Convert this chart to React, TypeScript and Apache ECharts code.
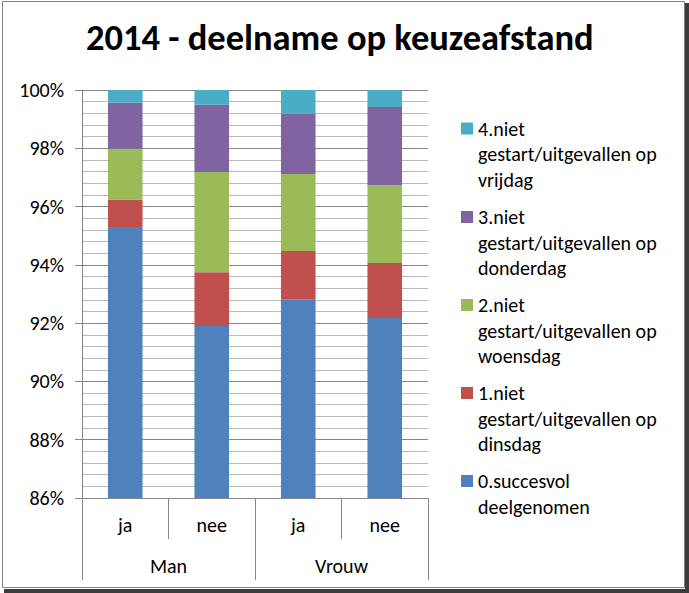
import React, { useEffect, useRef } from "react";
import * as echarts from "echarts";

const categories = ["ja", "nee", "ja", "nee"];
const groups = ["Man", "Vrouw"];
const seriesNames = [
  "0.succesvol deelgenomen",
  "1.niet gestart/uitgevallen op dinsdag",
  "2.niet gestart/uitgevallen op woensdag",
  "3.niet gestart/uitgevallen op donderdag",
  "4.niet gestart/uitgevallen op vrijdag",
];
const legendLabels = [
  "0.succesvol\ndeelgenomen",
  "1.niet\ngestart/uitgevallen op\ndinsdag",
  "2.niet\ngestart/uitgevallen op\nwoensdag",
  "3.niet\ngestart/uitgevallen op\ndonderdag",
  "4.niet\ngestart/uitgevallen op\nvrijdag",
];
const succesvol = [95.3, 91.9, 92.82, 92.18];
const dinsdag = [0.94, 1.85, 1.655, 1.88];
const woensdag = [1.74, 3.44, 2.645, 2.68];
const donderdag = [1.58, 2.3, 2.07, 2.68];
const vrijdag = [0.44, 0.51, 0.81, 0.58];
const seriesValues = [succesvol, dinsdag, woensdag, donderdag, vrijdag];
const colors = ["#4F81BD", "#C0504D", "#9BBB59", "#8064A2", "#4BACC6"];
const yTicks = { min: 86, max: 100, interval: 2 };

const FONT = "Carlito, Lato, sans-serif";

export default function App() {
  const ref = useRef<HTMLDivElement>(null);
  useEffect(() => {
    if (!ref.current) return;
    const chart = echarts.init(ref.current, null, { renderer: "svg" });
    const L = 25.5;
    const iconCenters = [481, 393, 305, 217, 128.5];
    const legends = seriesNames.map((name, i) => {
      const lines = legendLabels[i].split("\n").length;
      const blank = "\n".repeat(lines - 1);
      const total = 2 * lines - 1;
      return {
        data: [name],
        orient: "vertical",
        left: 461,
        top: iconCenters[i] - (total * L) / 2,
        padding: 0,
        icon: "rect",
        itemWidth: 12,
        itemHeight: 12,
        formatter: () => blank + legendLabels[i],
        textStyle: {
          fontFamily: FONT,
          fontSize: 20,
          lineHeight: L,
          color: "#000",
        },
      };
    });
    chart.setOption({
      animation: false,
      textStyle: { fontFamily: FONT },
      color: colors,
      title: {
        text: "2014 - deelname op keuzeafstand",
        left: 86,
        top: 19,
        padding: 0,
        textStyle: { fontFamily: FONT, fontSize: 36.5, fontWeight: "bold", color: "#000" },
      },
      legend: legends,
      grid: { left: 82, right: 261, top: 90, bottom: 95, containLabel: false },
      xAxis: [
        {
          type: "category",
          data: categories,
          position: "bottom",
          axisLine: { show: true, lineStyle: { color: "#868686", width: 1 } },
          axisTick: { show: true, length: 41, alignWithLabel: false, interval: 0, lineStyle: { color: "#868686" } },
          axisLabel: { fontFamily: FONT, fontSize: 20, color: "#000", margin: 17, interval: 0 },
          splitLine: { show: false },
        },
        {
          type: "category",
          data: groups,
          position: "bottom",
          offset: 41,
          axisLine: { show: false },
          axisTick: { show: true, length: 41, alignWithLabel: false, interval: 0, lineStyle: { color: "#868686" } },
          axisLabel: { fontFamily: FONT, fontSize: 20, color: "#000", margin: 17, interval: 0 },
          splitLine: { show: false },
        },
      ],
      yAxis: {
        type: "value",
        min: yTicks.min,
        max: yTicks.max,
        interval: yTicks.interval,
        axisLine: { show: true, lineStyle: { color: "#868686" } },
        axisTick: { show: true, length: 7, lineStyle: { color: "#868686" } },
        axisLabel: { formatter: "{value}%", fontFamily: FONT, fontSize: 20, color: "#000", margin: 18 },
        splitLine: { show: true, lineStyle: { color: "#868686", width: 1 } },
        minorTick: { show: false, splitNumber: 5 },
        minorSplitLine: { show: true, lineStyle: { color: "#b9b9b9", width: 1 } },
      },
      series: seriesNames.map((name, i) => ({
        name,
        type: "bar",
        stack: "total",
        xAxisIndex: 0,
        barCategoryGap: "60%",
        data: seriesValues[i],
        itemStyle: { color: colors[i] },
        clip: true,
      })),
      graphic: [
        { type: "rect", shape: { x: 2.5, y: 1.5, width: 682, height: 586 }, style: { fill: "none", stroke: "#808080", lineWidth: 1 }, silent: true },
        { type: "rect", shape: { x: 685, y: 3, width: 4, height: 590 }, style: { fill: "#3c3c3c" }, silent: true },
        { type: "rect", shape: { x: 4, y: 589, width: 685, height: 4 }, style: { fill: "#3c3c3c" }, silent: true },
      ],
    });
    return () => chart.dispose();
  }, []);
  return (
    <div
      ref={ref}
      style={{ position: "fixed", left: 0, top: 0, width: 689, height: 593, background: "#fff" }}
    />
  );
}
